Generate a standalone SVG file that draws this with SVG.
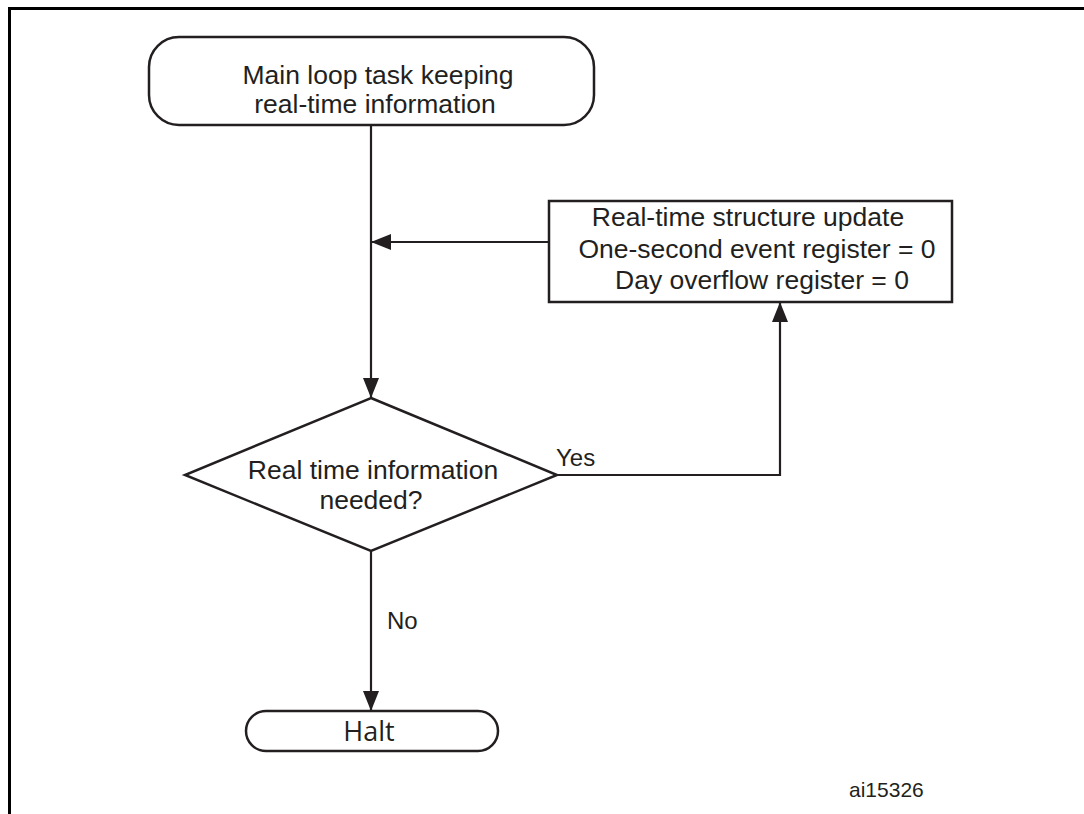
<svg xmlns="http://www.w3.org/2000/svg" width="1084" height="814" viewBox="0 0 1084 814">
<style>
.shape{fill:#fff;stroke:#231f20;stroke-width:2.5}
.conn{fill:none;stroke:#231f20;stroke-width:2.2}
.t{font-family:"Liberation Sans",Arial,sans-serif;font-size:26.5px;fill:#231f20;text-anchor:middle}
.lbl{font-family:"Liberation Sans",Arial,sans-serif;font-size:24px;fill:#231f20}
</style>
<defs>
<marker id="arr" viewBox="0 0 20 16" refX="20" refY="8" markerWidth="20" markerHeight="16" markerUnits="userSpaceOnUse" orient="auto">
<path d="M0,0 L20,8 L0,16 Z" fill="#231f20"/>
</marker>
</defs>
<rect width="1084" height="814" fill="#fff"/>
<path d="M9.5,820 V8.5 H1090" fill="none" stroke="#000" stroke-width="3"/>
<g id="connectors">
<path class="conn" d="M371,125 V398" marker-end="url(#arr)"/>
<path class="conn" d="M549,242 H371" marker-end="url(#arr)"/>
<path class="conn" d="M557,475 H780 V302" marker-end="url(#arr)"/>
<path class="conn" d="M371,551 V711" marker-end="url(#arr)"/>
<text class="lbl" x="556" y="466">Yes</text>
<text class="lbl" x="387" y="629">No</text>
</g>
<g id="start">
<rect class="shape" x="149" y="37" width="445" height="88" rx="30"/>
<text class="t" x="378" y="84">Main loop task keeping</text>
<text class="t" x="375" y="113">real-time information</text>
</g>
<g id="update">
<rect class="shape" x="549" y="201" width="403" height="101"/>
<text class="t" x="748" y="226">Real-time structure update</text>
<text class="t" x="757" y="258">One-second event register = 0</text>
<text class="t" x="762" y="289">Day overflow register = 0</text>
</g>
<g id="decision">
<polygon class="shape" points="371,398 557,475 371,551 185,475"/>
<text class="t" x="373" y="479">Real time information</text>
<text class="t" x="371" y="509">needed?</text>
</g>
<g id="halt">
<rect class="shape" x="246" y="711" width="252" height="40" rx="20"/>
<text x="369" y="741" style="font-family:'Open Sans','Noto Sans',sans-serif;font-size:27px;fill:#231f20;text-anchor:middle">Halt</text>
</g>
<text x="849" y="797" style="font-family:'Liberation Sans',Arial,sans-serif;font-size:21px;fill:#231f20">ai15326</text>
</svg>
